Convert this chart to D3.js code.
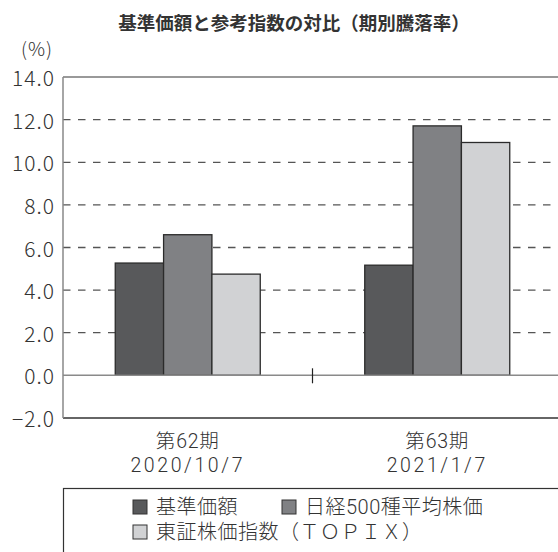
<!DOCTYPE html>
<html><head><meta charset="utf-8">
<script src="https://cdn.jsdelivr.net/npm/d3@7"></script>
<style>
html,body{margin:0;padding:0;background:#fff;}
svg text{font-family:"Noto Sans CJK JP","Noto Sans",sans-serif;fill:#333;}
.lt{font-weight:300;}
.rb{font-family:Roboto,"Noto Sans CJK JP",sans-serif;font-weight:300;}
</style></head>
<body><svg id="c" width="558" height="552"></svg>
<script>
const categories = ["第62期\n2020/10/7", "第63期\n2021/1/7"];
const seriesNames = ["基準価額", "日経500種平均株価", "東証株価指数（ＴＯＰＩＸ）"];
const kijun = [5.27, 5.17];
const nikkei500 = [6.60, 11.71];
const topix = [4.75, 10.93];
const yTicks = [-2, 0, 2, 4, 6, 8, 10, 12, 14];
const colors = ["#58595b", "#808184", "#d1d2d4"];

const seriesValues = [kijun, nikkei500, topix];
const svg = d3.select("#c");
const pLeft = 63, pRight = 562, pTop = 77.1, pBottom = 417.9;

const y = d3.scaleLinear().domain([-2, 14]).range([pBottom, pTop]);
const x0 = d3.scaleBand().domain(categories).range([pLeft, pRight]);
const groupW = 145;
const x1 = d3.scaleBand().domain(seriesNames).range([0, groupW]);

// title
svg.append("text").attr("x", 294).attr("y", 22).attr("text-anchor", "middle")
  .attr("dominant-baseline", "central").style("font-size", "18.5px").style("font-weight", "bold")
  .text("基準価額と参考指数の対比（期別騰落率）");
svg.append("text").attr("class", "lt").attr("x", 37).attr("y", 47).attr("text-anchor", "middle")
  .attr("dominant-baseline", "central").style("font-size", "19px").style("letter-spacing", "1px").text("(%)");

// gridlines
svg.append("g").selectAll("line").data(yTicks.filter(t => t > 0 && t < 14)).join("line")
  .attr("x1", pLeft).attr("x2", 558).attr("y1", d => y(d)).attr("y2", d => y(d))
  .attr("stroke", "#555").attr("stroke-width", 1.3).attr("stroke-dasharray", "7.5,7.5");

// y tick labels
svg.append("g").selectAll("text").data(yTicks).join("text").attr("class", "lt")
  .attr("x", 55).attr("y", d => y(d)).attr("text-anchor", "end")
  .attr("dominant-baseline", "central").style("font-size", "21px").style("letter-spacing", "1px")
  .text(d => d3.format(".1f")(d));

// bars
const g = svg.append("g");
categories.forEach((c, ci) => {
  const off = x0(c) + (x0.bandwidth() - groupW) / 2;
  seriesNames.forEach((s, si) => {
    const v = seriesValues[si][ci];
    g.append("rect")
      .attr("x", off + x1(s)).attr("width", x1.bandwidth())
      .attr("y", y(Math.max(0, v))).attr("height", Math.abs(y(v) - y(0)))
      .attr("fill", colors[si]).attr("stroke", "#2b2b2b").attr("stroke-width", 1.3);
  });
});

// zero line
svg.append("line").attr("x1", pLeft).attr("x2", 558).attr("y1", y(0)).attr("y2", y(0))
  .attr("stroke", "#8a8a8a").attr("stroke-width", 1.6);
// category separator tick
svg.append("line").attr("x1", x0(categories[1])).attr("x2", x0(categories[1]))
  .attr("y1", y(0) - 7).attr("y2", y(0) + 8).attr("stroke", "#222").attr("stroke-width", 1.2);
// frame
svg.append("line").attr("x1", pLeft).attr("x2", 558).attr("y1", pTop).attr("y2", pTop)
  .attr("stroke", "#777").attr("stroke-width", 1.5);
svg.append("line").attr("x1", pLeft).attr("x2", 558).attr("y1", pBottom).attr("y2", pBottom)
  .attr("stroke", "#333").attr("stroke-width", 1.5);
svg.append("line").attr("x1", pLeft).attr("x2", pLeft).attr("y1", pTop).attr("y2", pBottom)
  .attr("stroke", "#888").attr("stroke-width", 1.5);

// category labels
categories.forEach(c => {
  const cx = x0(c) + x0.bandwidth() / 2;
  c.split("\n").forEach((line, i) => {
    svg.append("text").attr("class", "rb").attr("text-anchor", "middle")
      .attr("x", cx).attr("y", 447.5 + i * 24)
      .style("font-size", "19.5px")
      .style("letter-spacing", i === 1 ? "2.6px" : "0.8px").text(line);
  });
});

// legend
svg.append("rect").attr("x", 63.5).attr("y", 488.5).attr("width", 520).attr("height", 100)
  .attr("fill", "none").attr("stroke", "#333").attr("stroke-width", 1.2);
const legendPos = [[133, 507], [282, 507], [133, 532]];
seriesNames.forEach((s, i) => {
  const [lx, ly] = legendPos[i];
  svg.append("rect").attr("x", lx).attr("y", ly - 7).attr("width", 14).attr("height", 14)
    .attr("fill", colors[i]).attr("stroke", "#333").attr("stroke-width", 1);
  svg.append("text").attr("class", "rb").attr("x", lx + 23).attr("y", ly + 7)
    .style("font-size", "20px").style("letter-spacing", "0.5px").text(s);
});
</script></body></html>
